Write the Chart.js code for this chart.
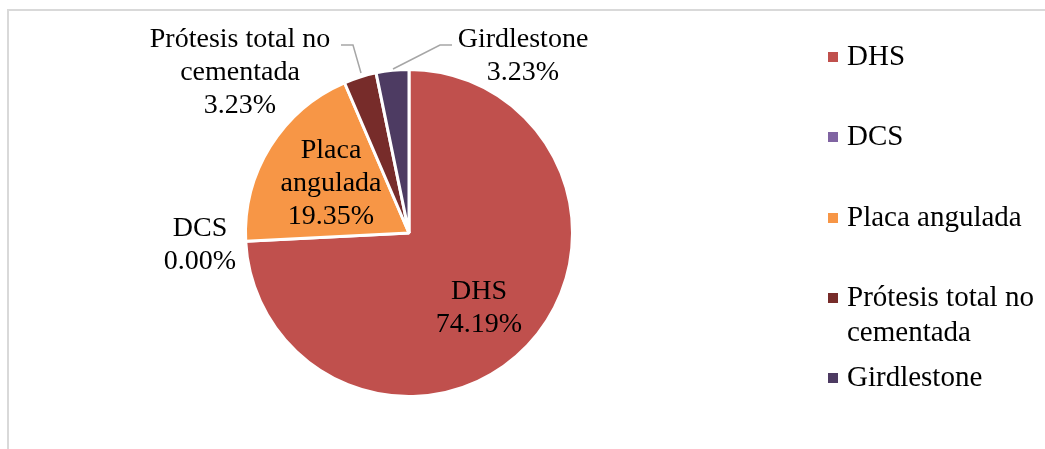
<!DOCTYPE html>
<html lang="es">
<head>
  <meta charset="UTF-8" />
  <title>Tipo de implante</title>
  <style>
    body { margin: 0; background: #fff; }
    #wrap { position: relative; width: 1045px; height: 449px; }
  </style>
  <script src="https://cdn.jsdelivr.net/npm/chart.js"></script>
</head>
<body>
  <div id="wrap">
    <canvas id="pieChart" width="1045" height="449"></canvas>
  </div>
  <script>
    const categories = ["DHS", "DCS", "Placa angulada", "Prótesis total no cementada", "Girdlestone"];
    const counts = [23, 0, 6, 1, 1];
    const colors = ["#C0504D", "#8064A2", "#F79646", "#772C2A", "#4D3B62"];
    // label lines as shown in the picture
    const labelLines = [["DHS"], ["DCS"], ["Placa", "angulada"], ["Prótesis total no", "cementada"], ["Girdlestone"]];
    const legendLines = [["DHS"], ["DCS"], ["Placa angulada"], ["Prótesis total no", "cementada"], ["Girdlestone"]];

    const FONT = '28px "Liberation Serif", "Times New Roman", serif';
    const LEGEND_FONT = '29px "Liberation Serif", "Times New Roman", serif';
    const LH = 33;

    // where each label block sits (center x, first line y) and its leader line, if any
    const labelPos = [
      { x: 479, y: 292 },
      { x: 200, y: 229 },
      { x: 331, y: 151 },
      { x: 240, y: 40, line: [[341, 45], [353, 45], [361, 73]] },
      { x: 523, y: 40, line: [[393, 69], [440, 45], [452, 45]] }
    ];
    const legendY = [57, 137, 218, 298, 378];

    const total = counts.reduce((a, b) => a + b, 0);

    const framePlugin = {
      id: 'frame',
      beforeDraw(chart) {
        const ctx = chart.ctx;
        ctx.save();
        ctx.strokeStyle = '#D9D9D9';
        ctx.lineWidth = 2;
        ctx.beginPath();
        ctx.moveTo(8, 449);
        ctx.lineTo(8, 10);
        ctx.lineTo(1045, 10);
        ctx.stroke();
        ctx.restore();
      }
    };

    const labelPlugin = {
      id: 'pieLabels',
      afterDraw(chart) {
        const ctx = chart.ctx;
        ctx.save();
        ctx.font = FONT;
        ctx.fillStyle = '#000';
        ctx.textAlign = 'center';
        ctx.textBaseline = 'middle';
        categories.forEach((c, i) => {
          const p = labelPos[i];
          const pct = (counts[i] / total * 100).toFixed(2) + '%';
          const lines = labelLines[i].concat([pct]);
          lines.forEach((t, k) => ctx.fillText(t, p.x, p.y + k * LH));
          if (p.line) {
            ctx.strokeStyle = '#A6A6A6';
            ctx.lineWidth = 1.5;
            ctx.beginPath();
            p.line.forEach((pt, k) => k ? ctx.lineTo(pt[0], pt[1]) : ctx.moveTo(pt[0], pt[1]));
            ctx.stroke();
          }
        });
        // legend
        ctx.font = LEGEND_FONT;
        ctx.textAlign = 'left';
        categories.forEach((c, i) => {
          ctx.fillStyle = colors[i];
          ctx.fillRect(828, legendY[i] - 5, 10, 10);
          ctx.fillStyle = '#000';
          legendLines[i].forEach((t, k) => ctx.fillText(t, 847, legendY[i] + k * 35));
        });
        ctx.restore();
      }
    };

    new Chart(document.getElementById('pieChart'), {
      type: 'pie',
      data: {
        labels: categories,
        datasets: [{
          data: counts,
          backgroundColor: colors,
          borderColor: '#fff',
          borderWidth: 3
        }]
      },
      options: {
        responsive: false,
        animation: false,
        layout: { padding: { left: 244, right: 471, top: 67, bottom: 50 } },
        plugins: { legend: { display: false }, tooltip: { enabled: false } }
      },
      plugins: [framePlugin, labelPlugin]
    });
  </script>
</body>
</html>
